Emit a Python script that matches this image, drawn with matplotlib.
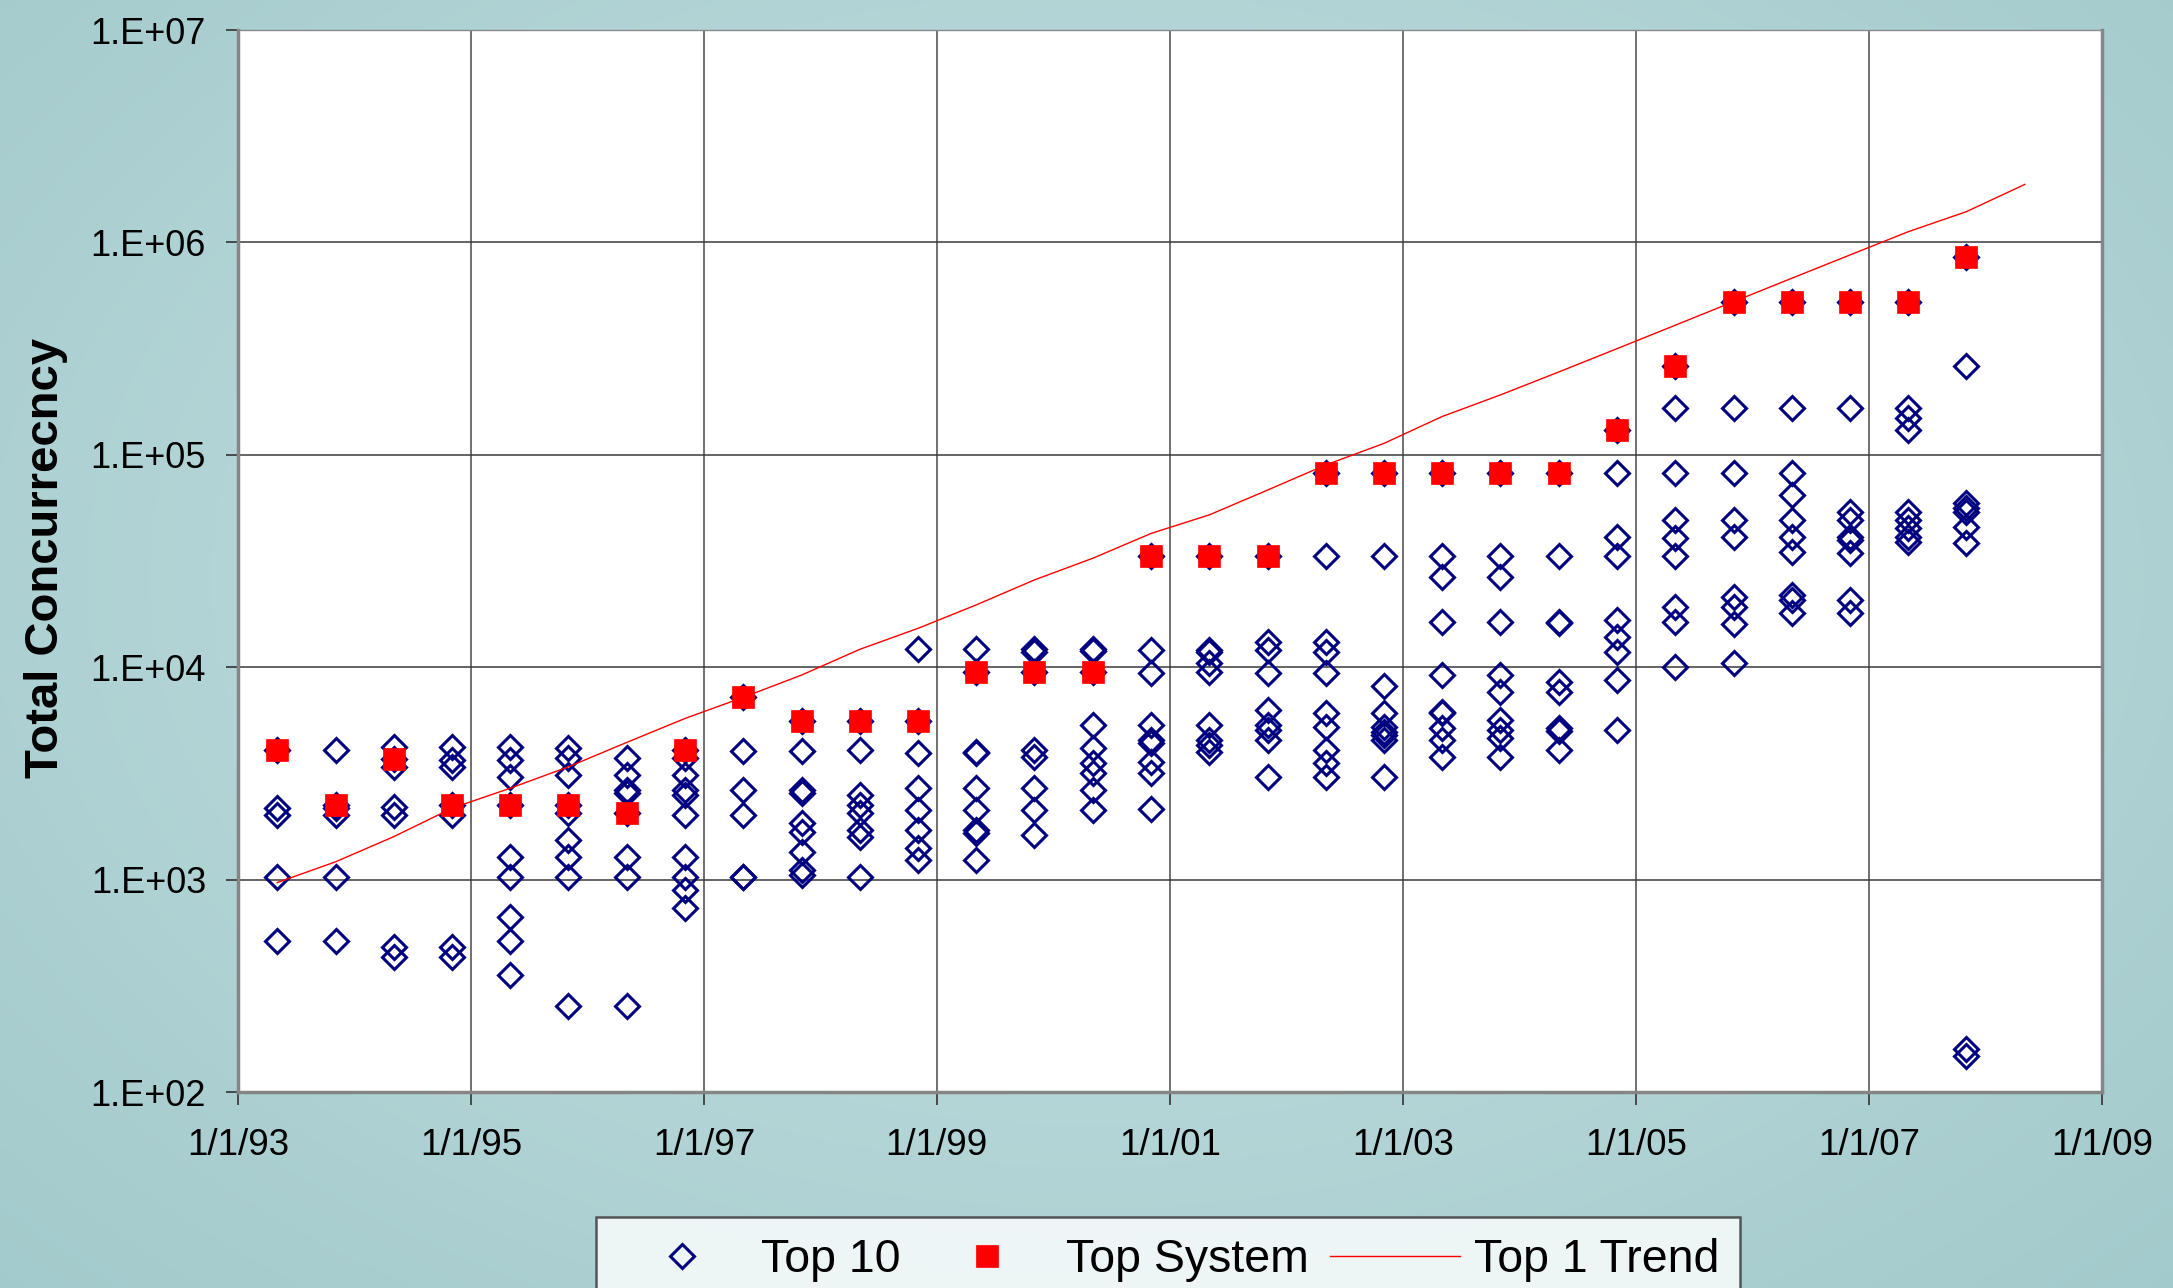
import numpy as np
import matplotlib
matplotlib.use("Agg")
import matplotlib.pyplot as plt
import pandas as pd

# ---------------- data ----------------
list_dates = ['1993-05-04', '1993-11-03', '1994-05-04', '1994-11-03', '1995-05-04',
              '1995-11-03', '1996-05-04', '1996-11-03', '1997-05-04', '1997-11-03',
              '1998-05-04', '1998-11-03', '1999-05-04', '1999-11-03', '2000-05-04',
              '2000-11-03', '2001-05-04', '2001-11-03', '2002-05-04', '2002-11-03',
              '2003-05-04', '2003-11-03', '2004-05-04', '2004-11-03', '2005-05-04',
              '2005-11-03', '2006-05-04', '2006-11-03', '2007-05-04', '2007-11-03']

top10 = [
    [4096, 2170, 2010, 1030, 512],
    [4070, 2240, 2170, 2010, 1030, 512],
    [4225, 3680, 3400, 2200, 2010, 483, 434],
    [4225, 3650, 3400, 2240, 2010, 483, 434],
    [4225, 3650, 3050, 2240, 1280, 1030, 668, 512, 356],
    [4150, 3724, 3105, 2240, 2050, 1535, 1274, 1032, 254],
    [3724, 3105, 2642, 2547, 2048, 1274, 1032, 254],
    [4096, 3724, 3105, 2642, 2501, 2014, 1274, 1032, 893, 732],
    [7264, 4045, 2642, 2014, 1032, 1024],
    [5580, 4045, 2642, 2547, 1854, 1682, 1353, 1109, 1052],
    [5580, 4074, 2501, 2244, 2051, 1713, 1594, 1032],
    [12140, 5580, 3929, 2692, 2128, 1713, 1403, 1236],
    [12140, 9472, 4000, 3950, 2692, 2128, 1713, 1650, 1236],
    [12140, 11800, 9472, 4074, 3795, 2692, 2128, 1623],
    [12140, 11900, 9472, 5343, 4150, 3524, 3160, 2642, 2128],
    [33500, 12050, 9360, 5343, 4540, 4385, 3589, 3160, 2143],
    [33500, 12050, 11800, 10430, 9526, 5343, 4540, 4300, 4000],
    [33500, 13180, 12050, 9360, 6288, 5343, 5054, 4540, 3053],
    [81920, 33500, 13180, 11830, 9360, 6070, 5250, 4074, 3524, 3053],
    [81920, 33500, 8150, 6070, 5250, 4966, 4800, 4540, 3053],
    [81920, 33500, 26670, 16370, 9190, 6180, 6070, 5155, 4540, 3795],
    [81920, 33500, 26670, 16370, 9190, 7670, 5640, 5054, 4624, 3795],
    [81920, 33500, 16370, 16200, 8550, 7670, 5155, 5000, 4074],
    [131072, 81800, 41150, 33500, 16680, 13930, 11830, 8710, 5054],
    [262144, 165500, 81800, 49300, 40450, 33500, 19270, 16370, 10050],
    [524288, 165500, 82400, 49300, 41150, 21460, 19270, 15970, 10430],
    [524288, 165500, 82400, 64700, 49300, 41150, 35000, 21880, 20800, 17950],
    [524288, 165500, 53960, 49300, 41150, 39700, 34360, 20800, 17950],
    [524288, 165500, 148500, 130900, 53960, 49300, 45080, 41150, 38980],
    [851968, 261800, 59100, 55960, 53960, 45900, 38300, 160, 148],
]

top_system = [4096, 2240, 3680, 2240, 2240, 2240, 2048, 4096, 7264, 5580,
              5580, 5580, 9472, 9472, 9472, 33500, 33500, 33500, 81920, 81920,
              81920, 81920, 81920, 131072, 262144, 524288, 524288, 524288, 524288, 851968]

trend_dates = list_dates + ['2008-05-04']
trend_values = [968, 1213, 1592, 2168, 2692, 3396, 4426, 5741, 7211, 9183,
                12130, 15240, 19630, 25760, 32580, 42660, 52120, 68230, 89540, 113200,
                151400, 191400, 245500, 316200, 407400, 526000, 677600, 873000, 1122000, 1396000,
                1875000]

x_ticks = ['1993-01-01', '1995-01-01', '1997-01-01', '1999-01-01', '2001-01-01',
           '2003-01-01', '2005-01-01', '2007-01-01', '2009-01-01']
x_tick_labels = ['1/1/93', '1/1/95', '1/1/97', '1/1/99', '1/1/01',
                 '1/1/03', '1/1/05', '1/1/07', '1/1/09']
y_ticks = [1e2, 1e3, 1e4, 1e5, 1e6, 1e7]
y_tick_labels = ['1.E+02', '1.E+03', '1.E+04', '1.E+05', '1.E+06', '1.E+07']

# ---------------- figure ----------------
plt.rcParams['font.family'] = ['Liberation Sans', 'DejaVu Sans']

W, H = 2173, 1288
fig = plt.figure(figsize=(W / 100, H / 100), dpi=100)

# teal background with a soft lighter centre
bg = fig.add_axes([0, 0, 1, 1], zorder=-10)
gy, gx = np.mgrid[0:1:200j, 0:1:340j]
r = np.sqrt(((gx - 0.5) / 0.75) ** 2 + ((gy - 0.45) / 0.85) ** 2)
c_in = np.array([200, 226, 227]) / 255
c_out = np.array([160, 200, 202]) / 255
t = np.clip(r, 0, 1)[..., None]
img = c_in * (1 - t) + c_out * t
bg.imshow(img, aspect='auto', extent=[0, 1, 0, 1], interpolation='bilinear')
bg.set_axis_off()

ax = fig.add_axes([238 / W, 1 - 1092 / H, (2102 - 238) / W, (1092 - 30) / H])
ax.set_facecolor('white')

dts = pd.to_datetime(list_dates)
xs = []
ys = []
for d, vals in zip(dts, top10):
    for v in vals:
        xs.append(d)
        ys.append(v)

ax.plot(xs, ys, ls='none', marker='D', ms=11.8, mfc='none', mec='#000080',
        mew=2.2, label='Top 10', zorder=3)
ax.plot(dts, top_system, ls='none', marker='s', ms=16.3, mfc='#ff0000',
        mec='#ff0000', mew=0.5, label='Top System', zorder=4)
ax.plot(pd.to_datetime(trend_dates), trend_values, color='#ff0000', lw=1.0,
        label='Top 1 Trend', zorder=5)

ax.set_yscale('log')
ax.set_ylim(1e2, 1e7)
xt = pd.to_datetime(x_ticks)
ax.set_xlim(xt[0], xt[-1])
ax.set_xticks(xt)
ax.set_xticklabels(x_tick_labels)
ax.set_yticks(y_ticks)
ax.set_yticklabels(y_tick_labels)
ax.yaxis.set_minor_locator(matplotlib.ticker.NullLocator())
ax.xaxis.set_minor_locator(matplotlib.ticker.NullLocator())

ax.tick_params(axis='both', which='major', length=9, width=1.2,
               direction='out', color='#333333')
ax.tick_params(axis='y', labelsize=26, pad=14)
ax.tick_params(axis='x', labelsize=26.5, pad=17)

ax.yaxis.grid(True, color='#3a3a3a', lw=1.1)
ax.xaxis.grid(True, color='#707070', lw=1.4)
ax.set_axisbelow(True)

for s in ['left', 'bottom', 'right']:
    ax.spines[s].set_color('#858585')
    ax.spines[s].set_linewidth(2.5)
ax.spines['top'].set_color('#8a8a8a')
ax.spines['top'].set_linewidth(1.0)

fig.text(46 / W, 1 - 558 / H, 'Total Concurrecncy', rotation=90, ha='center',
         va='center', fontsize=34, fontweight='bold')

leg = fig.legend(*ax.get_legend_handles_labels(), loc='upper center',
                 bbox_to_anchor=(1168 / W, 1 - 1217 / H), ncol=3, fontsize=33.5,
                 frameon=True, fancybox=False, edgecolor='#333333',
                 handlelength=2.8, handletextpad=0.3, columnspacing=0.45,
                 borderpad=0.45, borderaxespad=0)
leg.get_frame().set_linewidth(1.8)
leg.get_frame().set_facecolor('white')

fig.savefig('out.png', dpi=100)
